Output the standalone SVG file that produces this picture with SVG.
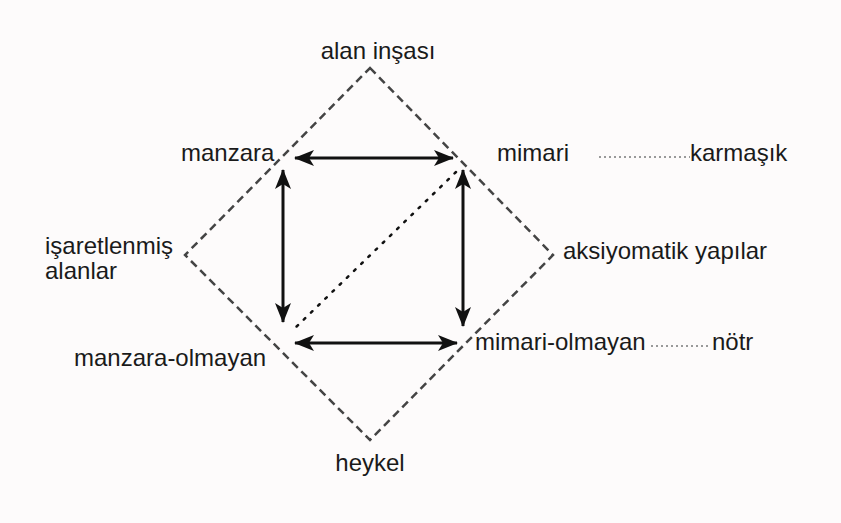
<svg xmlns="http://www.w3.org/2000/svg" width="841" height="523" viewBox="0 0 841 523">
  <defs>
    <marker id="head" viewBox="0 0 20 16" refX="19" refY="8" markerWidth="20" markerHeight="16" markerUnits="userSpaceOnUse" orient="auto-start-reverse">
      <path d="M0,0 L20,8 L0,16 L5,8 Z" fill="#111"/>
    </marker>
    <style>
      .lbl { font-family: "Liberation Sans", Arial, sans-serif; font-size: 24px; fill: #1a1a1a; }
      .frame { fill: none; stroke: #444; stroke-width: 2.5; stroke-dasharray: 8 5; }
      .arrow { fill: none; stroke: #111; stroke-width: 3; marker-start: url(#head); marker-end: url(#head); }
      .diag { fill: none; stroke: #111; stroke-width: 2.5; stroke-dasharray: 2 8; stroke-linecap: round; }
      .tie { fill: none; stroke: #999; stroke-width: 2; stroke-dasharray: 2 3; }
    </style>
  </defs>
  <rect width="841" height="523" fill="#fdfbfb"/>

  <!-- outer semiotic square frame -->
  <g id="frame">
    <path class="frame" d="M370,68 L553,255 L370,440 L185,255 Z"/>
  </g>

  <!-- connectors -->
  <g id="connectors">
    <line class="arrow" x1="295" y1="158" x2="453" y2="158"/>
    <line class="arrow" x1="295" y1="343" x2="457" y2="343"/>
    <line class="arrow" x1="283" y1="170" x2="283" y2="322"/>
    <line class="arrow" x1="463" y1="170" x2="463" y2="326"/>
    <line class="diag" x1="456" y1="172" x2="293" y2="330"/>
    <line class="tie" x1="599" y1="157" x2="690" y2="157"/>
    <line class="tie" x1="651" y1="346" x2="710" y2="346"/>
  </g>

  <g id="alan-insasi"><text class="lbl" x="378" y="59" text-anchor="middle">alan inşası</text></g>
  <g id="manzara"><text class="lbl" x="181" y="161">manzara</text></g>
  <g id="mimari"><text class="lbl" x="497" y="161">mimari</text></g>
  <g id="karmasik"><text class="lbl" x="690" y="161">karmaşık</text></g>
  <g id="isaretlenmis-alanlar">
    <text class="lbl" x="45" y="254">işaretlenmiş</text>
    <text class="lbl" x="45" y="279">alanlar</text>
  </g>
  <g id="aksiyomatik-yapilar"><text class="lbl" x="563" y="259">aksiyomatik yapılar</text></g>
  <g id="manzara-olmayan"><text class="lbl" x="74" y="366">manzara-olmayan</text></g>
  <g id="mimari-olmayan"><text class="lbl" x="475" y="350">mimari-olmayan</text></g>
  <g id="notr"><text class="lbl" x="712" y="350">nötr</text></g>
  <g id="heykel"><text class="lbl" x="370" y="471" text-anchor="middle">heykel</text></g>
</svg>
